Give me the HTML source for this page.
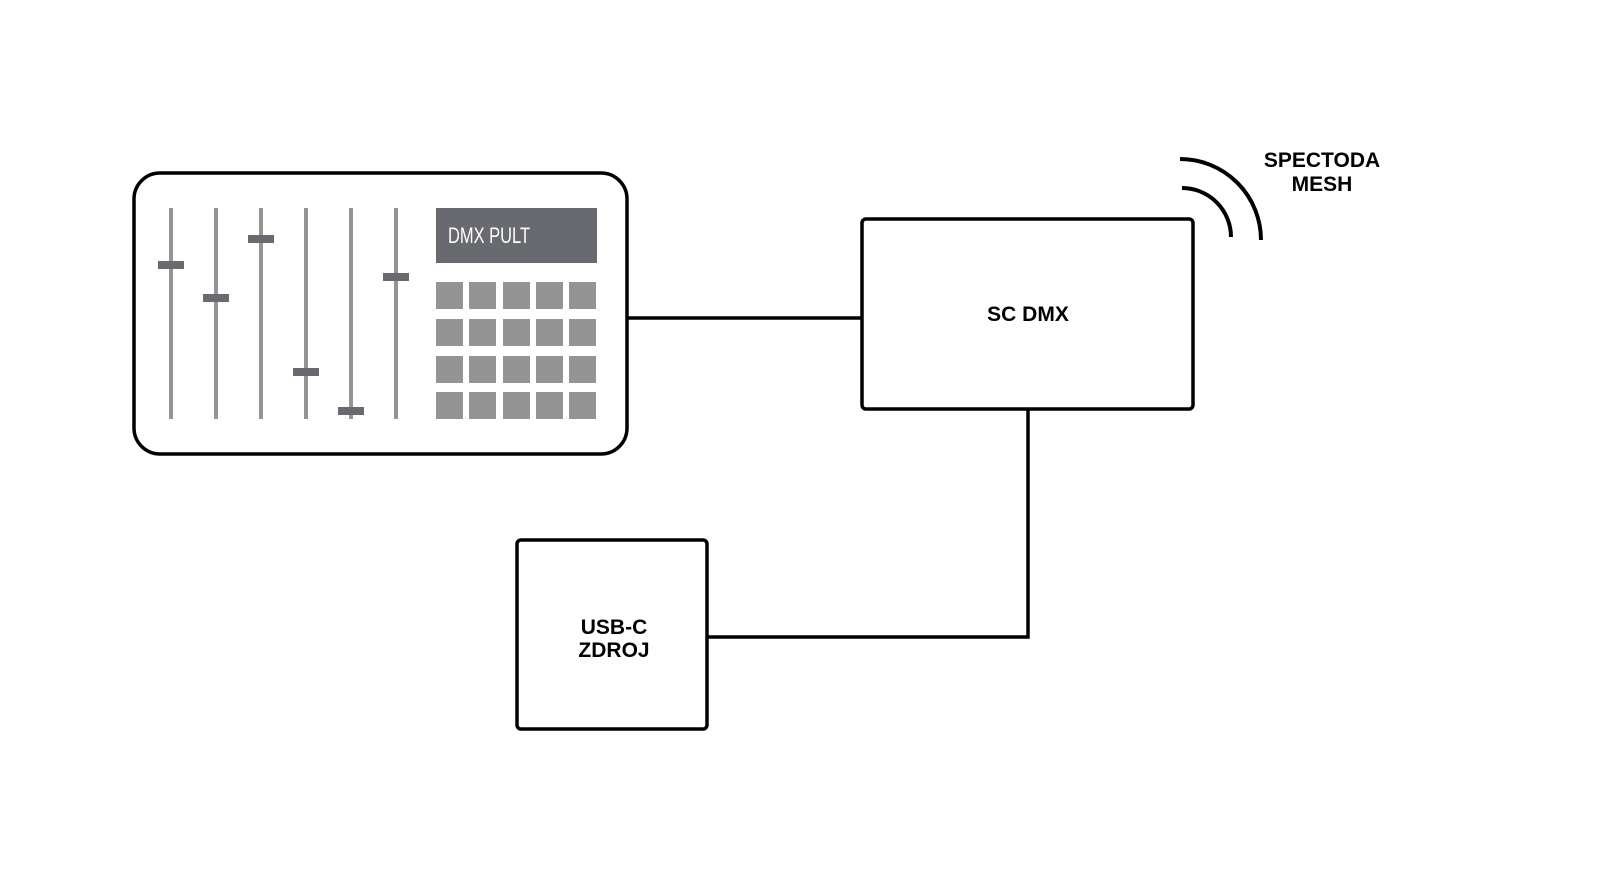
<!DOCTYPE html>
<html><head><meta charset="utf-8"><style>
html,body{margin:0;padding:0;background:#fff;}
svg{display:block;}
text{font-family:"Liberation Sans",sans-serif;font-weight:bold;}
</style></head><body>
<svg width="1620" height="876" viewBox="0 0 1620 876" xmlns="http://www.w3.org/2000/svg">
<rect x="0" y="0" width="1620" height="876" fill="#fff"/>
<!-- connectors -->
<g stroke="#000" stroke-width="3.5" fill="none">
<line x1="628" y1="318" x2="862" y2="318"/>
<polyline points="1028,409 1028,637 706,637"/>
</g>
<!-- pult -->
<rect x="134" y="173" width="493" height="281" rx="26" fill="none" stroke="#000" stroke-width="3.5"/>
<g fill="#949494">
<rect x="169" y="208" width="4" height="211"/>
<rect x="214" y="208" width="4" height="211"/>
<rect x="259" y="208" width="4" height="211"/>
<rect x="304" y="208" width="4" height="211"/>
<rect x="349" y="208" width="4" height="211"/>
<rect x="394" y="208" width="4" height="211"/>
</g>
<g fill="#686a70">
<rect x="158" y="261" width="26" height="8"/>
<rect x="203" y="294" width="26" height="8"/>
<rect x="248" y="235" width="26" height="8"/>
<rect x="293" y="368" width="26" height="8"/>
<rect x="338" y="407" width="26" height="8"/>
<rect x="383" y="273" width="26" height="8"/>
<rect x="436" y="208" width="161" height="55"/>
</g>
<text x="448" y="243" fill="#fff" font-size="22" style="font-weight:normal" textLength="82" lengthAdjust="spacingAndGlyphs">DMX PULT</text>
<g fill="#949494">
<rect x="436" y="282" width="27" height="27"/><rect x="469" y="282" width="27" height="27"/><rect x="503" y="282" width="27" height="27"/><rect x="536" y="282" width="27" height="27"/><rect x="569" y="282" width="27" height="27"/>
<rect x="436" y="319" width="27" height="27"/><rect x="469" y="319" width="27" height="27"/><rect x="503" y="319" width="27" height="27"/><rect x="536" y="319" width="27" height="27"/><rect x="569" y="319" width="27" height="27"/>
<rect x="436" y="356" width="27" height="27"/><rect x="469" y="356" width="27" height="27"/><rect x="503" y="356" width="27" height="27"/><rect x="536" y="356" width="27" height="27"/><rect x="569" y="356" width="27" height="27"/>
<rect x="436" y="392" width="27" height="27"/><rect x="469" y="392" width="27" height="27"/><rect x="503" y="392" width="27" height="27"/><rect x="536" y="392" width="27" height="27"/><rect x="569" y="392" width="27" height="27"/>
</g>
<!-- SC DMX -->
<rect x="862" y="219" width="331" height="190" rx="4" fill="none" stroke="#000" stroke-width="3.5"/>
<text x="1028" y="321" font-size="21" text-anchor="middle">SC DMX</text>
<!-- USB -->
<rect x="517" y="540" width="190" height="189" rx="4" fill="none" stroke="#000" stroke-width="3.5"/>
<text x="614" y="634" font-size="21" text-anchor="middle">USB-C</text>
<text x="614" y="657" font-size="21" text-anchor="middle">ZDROJ</text>
<!-- waves -->
<g stroke="#000" stroke-width="4" fill="none">
<path d="M1180,159 A81,81 0 0 1 1261,240"/>
<path d="M1182,188 A49,49 0 0 1 1231,237"/>
</g>
<text x="1322" y="167" font-size="21" text-anchor="middle">SPECTODA</text>
<text x="1322" y="191" font-size="21" text-anchor="middle">MESH</text>
</svg>
</body></html>
